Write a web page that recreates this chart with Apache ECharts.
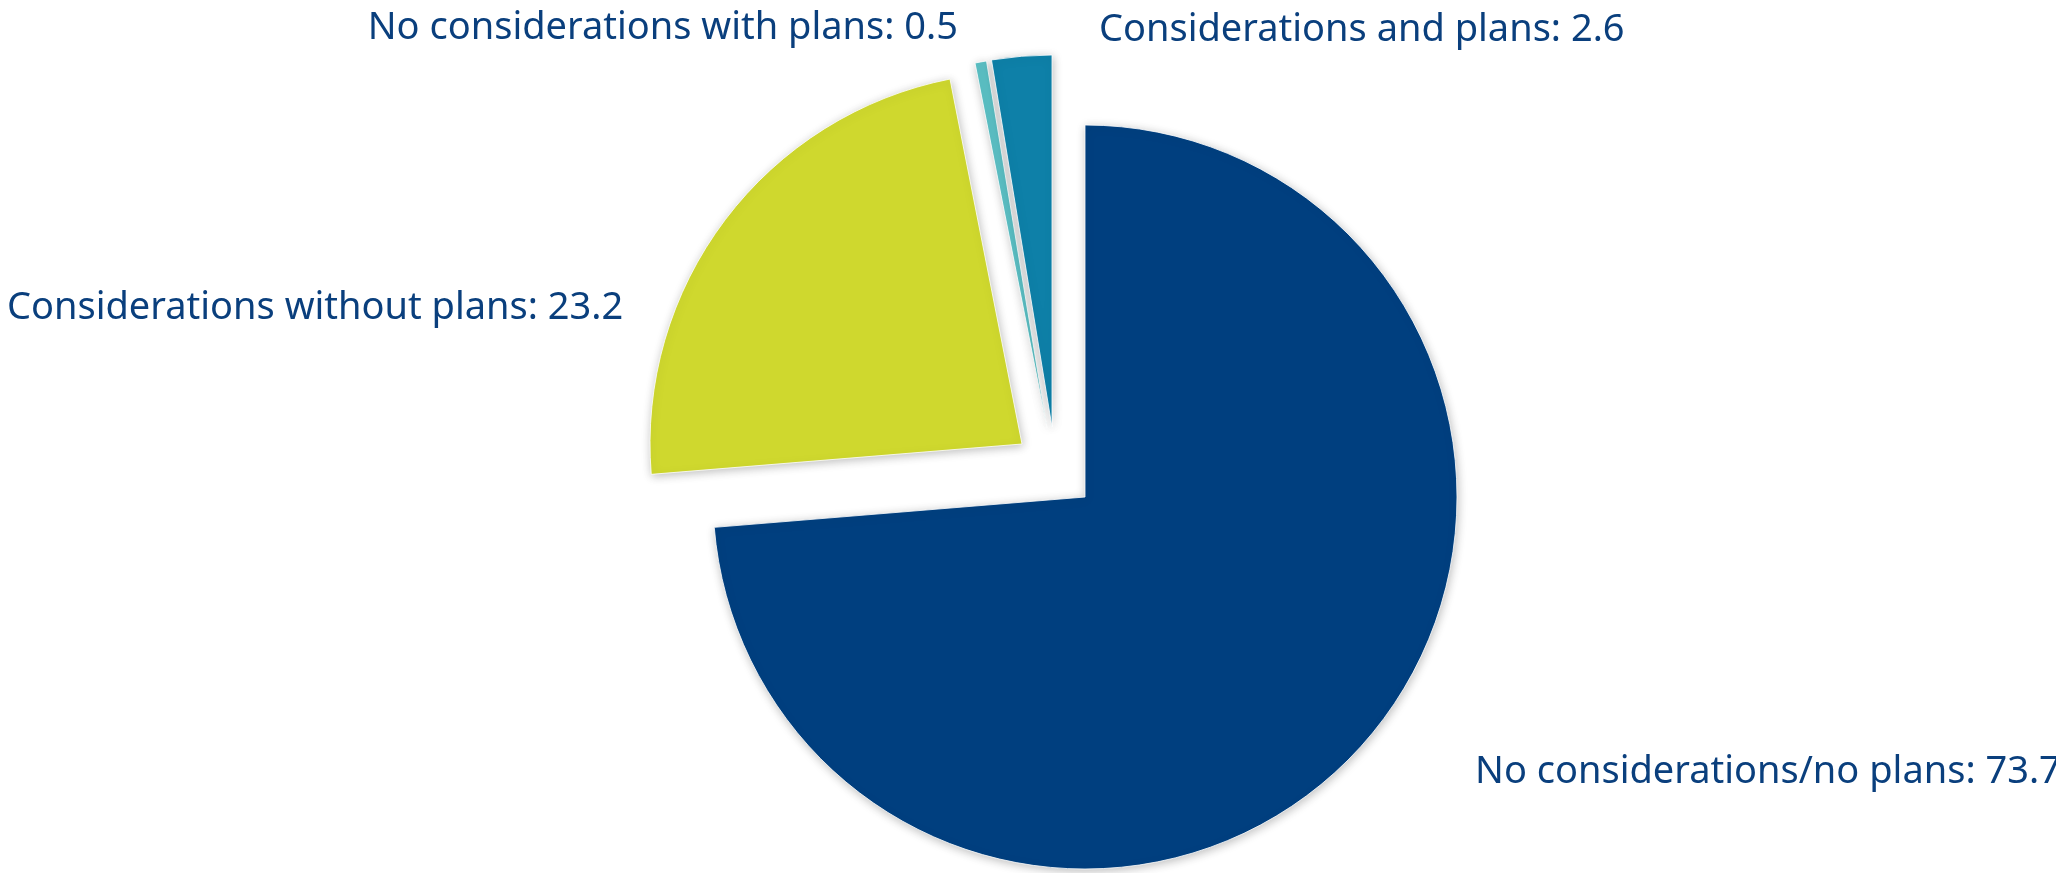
<!DOCTYPE html>
<html>
<head>
<meta charset="utf-8">
<script src="https://cdn.jsdelivr.net/npm/echarts@6/dist/echarts.min.js"></script>
<style>
html,body{margin:0;padding:0;background:#fff;}
#chart{width:2056px;height:873px;}
</style>
</head>
<body>
<div id="chart"></div>
<script>
const categories = ['No considerations/no plans', 'Considerations without plans', 'No considerations with plans', 'Considerations and plans'];
const values = [73.7, 23.2, 0.5, 2.6];
const colors = ['#003f7f', '#cfd82e', '#5bbfc4', '#0e80a8'];
// slices drawn by each (exploded) pie layer
const layers = [[0], [1], [2], [3]];
const layerCenters = [[1085, 497], [1022, 444], [1047, 428], [1052, 427]];
const labelPos = [[1475, 772, 'left'], [7, 308, 'left'], [958, 28, 'right'], [1099, 30, 'left']];

const chart = echarts.init(document.getElementById('chart'), null, {renderer: 'canvas'});

const series = layers.map((owned, li) => ({
  type: 'pie',
  center: layerCenters[li],
  radius: [0, 372],
  startAngle: 90,
  clockwise: true,
  silent: true,
  animation: false,
  avoidLabelOverlap: false,
  labelLine: {show: false},
  label: {
    show: true,
    formatter: '{b}: {c}',
    fontFamily: 'Noto Sans',
    fontSize: 38,
    color: '#0a3f7d'
  },
  labelLayout: function (params) {
    const p = labelPos[params.dataIndex];
    return {x: p[0], y: p[1], align: p[2], verticalAlign: 'middle'};
  },
  data: categories.map((name, i) => {
    const own = owned.indexOf(i) >= 0;
    return {
      name: name,
      value: values[i],
      itemStyle: own ? {
        color: colors[i],
        borderColor: '#ffffff',
        borderWidth: 0.8,
        shadowBlur: 10,
        shadowColor: 'rgba(0,0,0,0.25)',
        shadowOffsetX: 1,
        shadowOffsetY: 2
      } : {
        color: 'rgba(0,0,0,0)',
        borderWidth: 0,
        shadowBlur: 0,
        shadowColor: 'rgba(0,0,0,0)'
      },
      label: {show: own}
    };
  })
}));

chart.setOption({
  backgroundColor: '#ffffff',
  animation: false,
  series: series
});
</script>
</body>
</html>
